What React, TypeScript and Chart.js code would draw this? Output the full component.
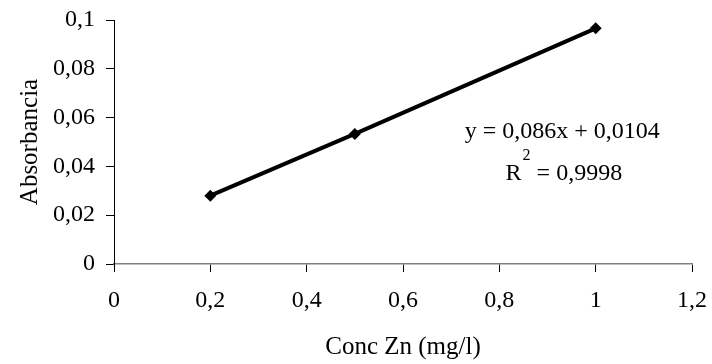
import React, { useEffect, useRef } from "react";
import { Chart, registerables } from "chart.js";

Chart.register(...registerables);

const concValues = [0.2, 0.5, 1];
const absorbValues = [0.028, 0.0533, 0.0966];
const equationText = "y = 0,086x + 0,0104";
const r2Label = "R";
const r2Sup = "2";
const r2Value = " = 0,9998";
const xTitle = "Conc Zn (mg/l)";
const yTitle = "Absorbancia";

const FONT = '"Liberation Serif", "Times New Roman", serif';
const fmt = (v: number) => {
  const s = String(Math.round(v * 1000) / 1000);
  return s.replace(".", ",");
};

export default function App() {
  const ref = useRef<HTMLCanvasElement | null>(null);
  useEffect(() => {
    if (!ref.current) return;
    const annot = {
      id: "annot",
      afterDraw(chart: any) {
        const ctx = chart.ctx;
        const xs = chart.scales.x;
        const ys = chart.scales.y;
        ctx.save();
        ctx.fillStyle = "#000";
        ctx.textBaseline = "alphabetic";
        ctx.textAlign = "left";
        ctx.font = `24px ${FONT}`;
        const x1 = xs.getPixelForValue(0.728);
        const y1 = ys.getPixelForValue(0.0518);
        ctx.fillText(equationText, x1, y1);
        const x2 = xs.getPixelForValue(0.813);
        const y2 = ys.getPixelForValue(0.0346);
        ctx.fillText(r2Label, x2, y2);
        const wR = ctx.measureText(r2Label).width;
        ctx.font = `16px ${FONT}`;
        ctx.fillText(r2Sup, x2 + wR + 1, y2 - 20);
        const wS = ctx.measureText(r2Sup).width;
        ctx.font = `24px ${FONT}`;
        ctx.fillText(r2Value, x2 + wR + wS + 1, y2);
        ctx.restore();
      },
    };
    const chart = new Chart(ref.current, {
      type: "line",
      data: {
        datasets: [
          {
            data: concValues.map((x, i) => ({ x, y: absorbValues[i] })),
            borderColor: "#000",
            backgroundColor: "#000",
            borderWidth: 4,
            pointStyle: "rectRot",
            pointRadius: 6,
            pointBorderWidth: 0,
            pointBackgroundColor: "#000",
            tension: 0,
          },
        ],
      },
      options: {
        responsive: false,
        animation: false,
        devicePixelRatio: 1,
        layout: { padding: { top: 20, right: 20, left: 0, bottom: 0 } },
        plugins: {
          legend: { display: false },
          tooltip: { enabled: false },
        },
        scales: {
          x: {
            type: "linear",
            min: 0,
            max: 1.2,
            afterFit: (s: any) => {
              s.height = 100;
              s.paddingLeft = 0;
              s.paddingRight = 0;
            },
            ticks: {
              stepSize: 0.2,
              color: "#000",
              font: { family: FONT, size: 24 },
              padding: 14,
              maxRotation: 0,
              callback: (v: any) => fmt(Number(v)),
            },
            grid: {
              drawOnChartArea: false,
              drawTicks: true,
              tickLength: 8,
              color: "#000",
            },
            border: { display: true, color: "#808080", width: 1.5 },
            title: {
              display: true,
              text: xTitle,
              color: "#000",
              font: { family: FONT, size: 25 },
              padding: { top: 0, bottom: 2 },
            },
          },
          y: {
            type: "linear",
            min: 0,
            max: 0.1,
            afterFit: (s: any) => {
              s.width = 114;
              s.paddingTop = 0;
              s.paddingBottom = 0;
            },
            ticks: {
              stepSize: 0.02,
              color: "#000",
              font: { family: FONT, size: 24 },
              padding: 11,
              callback: (v: any) => fmt(Number(v)),
            },
            grid: {
              drawOnChartArea: false,
              drawTicks: true,
              tickLength: 8,
              color: "#000",
            },
            border: { display: true, color: "#000", width: 1 },
            title: {
              display: true,
              text: yTitle,
              color: "#000",
              font: { family: FONT, size: 25 },
              padding: { top: 15, bottom: 0 },
            },
          },
        },
      },
      plugins: [annot],
    });
    return () => chart.destroy();
  }, []);
  return (
    <div style={{ position: "fixed", left: 0, top: 0, width: 712, height: 364, background: "#fff" }}>
      <canvas ref={ref} width={712} height={364} style={{ width: 712, height: 364 }} />
    </div>
  );
}
